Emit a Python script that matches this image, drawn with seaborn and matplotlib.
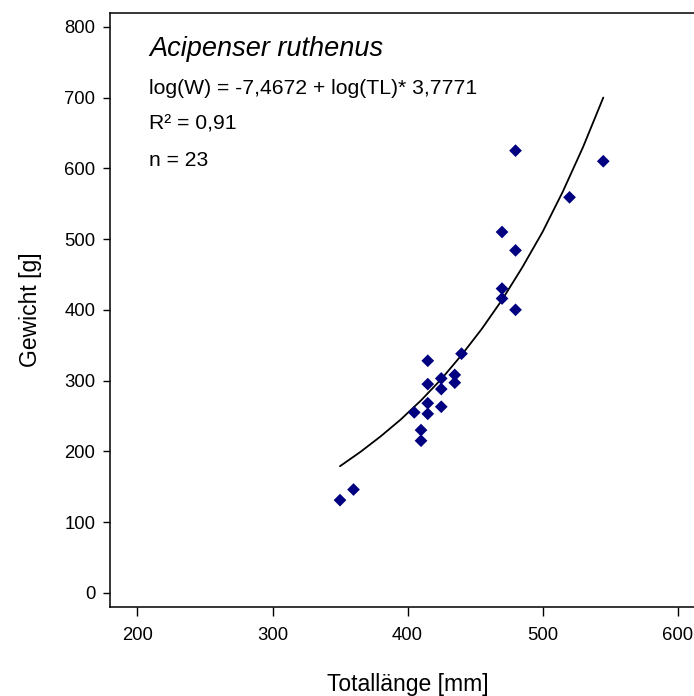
import numpy as np
import pandas as pd
import seaborn as sns
import matplotlib.pyplot as plt

# measured fish: total length [mm] and weight [g]
length_mm = [350, 360, 405, 410, 410, 415, 415, 415, 415, 425, 425, 425,
             435, 435, 440, 470, 470, 470, 480, 480, 480, 520, 545]
weight_g = [131, 146, 255, 230, 215, 328, 295, 268, 253, 303, 288, 263,
            308, 297, 338, 510, 430, 416, 625, 484, 400, 559, 610]

# fitted curve
curve_len = [350, 365, 380, 395, 410, 425, 440, 455, 470, 485, 500, 515, 530, 545]
curve_wt = [179, 199, 221, 245, 272, 302, 336, 373, 414, 460, 510, 567, 630, 700]

x_ticks = [200, 300, 400, 500, 600]
y_ticks = [0, 100, 200, 300, 400, 500, 600, 700, 800]

species = "Acipenser ruthenus"
info_lines = ["log(W) = -7,4672 + log(TL)* 3,7771", "R² = 0,91", "n = 23"]

df = pd.DataFrame({"TL": length_mm, "W": weight_g})
fit = pd.DataFrame({"TL": curve_len, "W": curve_wt})

sns.set_style("ticks")
plt.rcParams['font.family'] = ['Liberation Sans', 'DejaVu Sans']
plt.rcParams['text.color'] = 'black'
plt.rcParams['axes.labelcolor'] = 'black'

fig = plt.figure(figsize=(6.94, 6.96), dpi=100)
ax = fig.add_axes([0.1592, 0.1279, 0.856, 0.8539])

sns.lineplot(data=fit, x="TL", y="W", color="black", linewidth=1.3, ax=ax)
sns.scatterplot(data=df, x="TL", y="W", marker="D", s=42, color="#000080",
                edgecolor="none", ax=ax, zorder=3)

ax.set_xlim(180, 620)
ax.set_ylim(-20, 820)
ax.set_xticks(x_ticks)
ax.set_yticks(y_ticks)
ax.tick_params(labelsize=13.3, width=1, colors="black", labelcolor="black")
ax.tick_params(axis="x", length=6.5, pad=8)
ax.tick_params(axis="y", length=4.8, pad=6)
ax.spines["right"].set_visible(False)
for s in ["left", "top", "bottom"]:
    ax.spines[s].set_linewidth(1.1)
    ax.spines[s].set_color("black")

ax.set_xlabel("Totallänge [mm]", fontsize=16.5, labelpad=21)
ax.set_ylabel("Gewicht [g]", fontsize=16.5, labelpad=16)

ax.text(208.7, 769, species, fontsize=19.5, style="italic", va="center", ha="left")
for line, y in zip(info_lines, [713, 663, 611]):
    ax.text(208.7, y, line, fontsize=15.2, va="center", ha="left")

fig.savefig("out.png", dpi=100)
